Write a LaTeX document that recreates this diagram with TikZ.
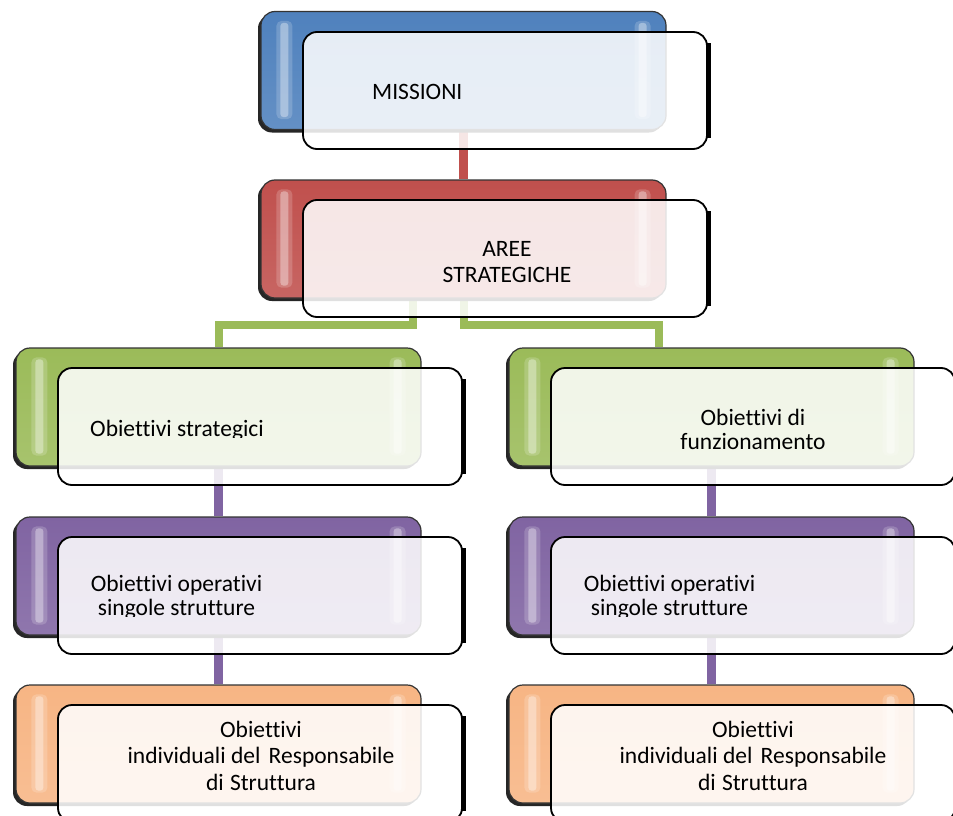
\documentclass[tikz,border=0pt]{standalone}
\usepackage{fontspec}
\setmainfont{Carlito}[Ligatures={NoCommon}]
\usetikzlibrary{calc,shadows}

\pgfdeclarelayer{links}
\pgfsetlayers{links,main}

\definecolor{tblue}{HTML}{4F81BD}
\definecolor{tred}{HTML}{C0504D}
\definecolor{tgreen}{HTML}{9BBB59}
\definecolor{tpurple}{HTML}{8064A2}
\definecolor{torange}{HTML}{F7B584}

\tikzset{
  backbox/.style={draw=black!80, line width=1.2pt, rounded corners=14pt,
    minimum width=405pt, minimum height=118pt, inner sep=0pt,
    top color=#1, bottom color=#1!88!white,
    drop shadow={shadow xshift=-3pt, shadow yshift=-3pt, fill=black!85, opacity=1}},
  frontbox/.style={draw=black, line width=1.8pt, rounded corners=14pt,
    minimum width=404pt, minimum height=117pt, inner sep=0pt,
    fill=white, fill opacity=0.86},
  glosswide/.style={fill=white, fill opacity=0.18, rounded corners=5pt},
  glossthin/.style={fill=white, fill opacity=0.35, rounded corners=3pt},
  rimline/.style={draw=black, line width=4.5pt},
  redlink/.style={draw=tred, line width=9pt},
  greenlink/.style={draw=tgreen, line width=8pt},
  purplelink/.style={draw=tpurple, line width=9pt},
  lbl/.style={font=\fontsize{23.5}{#1}\selectfont, align=center, inner sep=0pt, text=black},
  lbl/.default=25
}

% first-line height for multi-line labels
\newcommand{\linetop}{\rule{0pt}{19pt}}

% coloured back panel with its two glossy strips
\newcommand{\backtier}[4]{%
  \node[backbox=#4] (b#1) at (#2,#3) {};
  \fill[glosswide] ($(b#1.north west)+(16,10)$) rectangle ($(b#1.south west)+(32,-11)$);
  \fill[glossthin] ($(b#1.north west)+(20,12)$) rectangle ($(b#1.south west)+(28,-13)$);
  \fill[glosswide] ($(b#1.north east)+(-32,10)$) rectangle ($(b#1.south east)+(-16,-11)$);
  \fill[glossthin] ($(b#1.north east)+(-28,12)$) rectangle ($(b#1.south east)+(-20,-13)$);
}
% translucent front card with its dark right rim
\newcommand{\fronttier}[3]{%
  \node[frontbox] (f#1) at (#2,#3) {};
  \draw[rimline] ($(f#1.north east)+(1,12)$) -- ($(f#1.south east)+(1,-12)$);
}

\begin{document}
\begin{tikzpicture}[x=1pt, y=-1pt]
\useasboundingbox (0,0) rectangle (953,816);

% back panels
\backtier{M}{463.5}{70.5}{tblue}
\backtier{A}{463.5}{239}{tred}
\backtier{GL}{218.5}{407}{tgreen}
\backtier{GR}{711.5}{407}{tgreen}
\backtier{PL}{218.5}{576}{tpurple}
\backtier{PR}{711.5}{576}{tpurple}
\backtier{OL}{218.5}{744}{torange}
\backtier{OR}{711.5}{744}{torange}

% connectors
\begin{pgfonlayer}{links}
  \fill[white] (0,0) rectangle (953,816);
  \draw[redlink] (bM.south) -- (bA.north);
  \draw[greenlink] ([xshift=-51pt]bA.south) |- ([yshift=22pt]bGL.north) -- (bGL.north);
  \draw[greenlink] (bA.south) |- ([xshift=-53pt,yshift=22pt]bGR.north) -- ([xshift=-53pt]bGR.north);
  \draw[purplelink] (bGL.south) -- (bPL.north);
  \draw[purplelink] (bPL.south) -- (bOL.north);
  \draw[purplelink] (bGR.south) -- (bPR.north);
  \draw[purplelink] (bPR.south) -- (bOR.north);
\end{pgfonlayer}

% front cards
\fronttier{M}{505}{90.5}
\fronttier{A}{505}{258.5}
\fronttier{GL}{260}{426.5}
\fronttier{GR}{753}{426.5}
\fronttier{PL}{260}{595.5}
\fronttier{PR}{753}{595.5}
\fronttier{OL}{260}{763.5}
\fronttier{OR}{753}{763.5}

% labels
\node[lbl, anchor=base west] (tM) at (372,99.5) {MISSIONI};
\node[lbl=26, anchor=north] (tA) at (507,237) {\linetop AREE\\STRATEGICHE};

\begin{scope}
  \clip (0,0) rectangle (953,437);
  \node[lbl, anchor=base west] (tGL) at (90,436.5) {Obiettivi strategici};
\end{scope}
\node[lbl=24, anchor=north] (tGR) at (753,406) {\linetop Obiettivi di\\funzionamento};

\begin{scope}
  \clip (0,0) rectangle (953,616);
  \node[lbl=24.5, anchor=north] (tPL) at (176.5,572) {\linetop Obiettivi operativi\\singole strutture};
  \node[lbl=24.5, anchor=north] (tPR) at (669.5,572) {\linetop Obiettivi operativi\\singole strutture};
\end{scope}

\node[lbl=26.5, anchor=north] (tOL) at (261,718) {\linetop Obiettivi\\individuali del\hspace{3pt} Responsabile\\di\hspace{1pt} Struttura};
\node[lbl=26.5, anchor=north] (tOR) at (753,718) {\linetop Obiettivi\\individuali del\hspace{3pt} Responsabile\\di\hspace{1pt} Struttura};
\end{tikzpicture}
\end{document}
